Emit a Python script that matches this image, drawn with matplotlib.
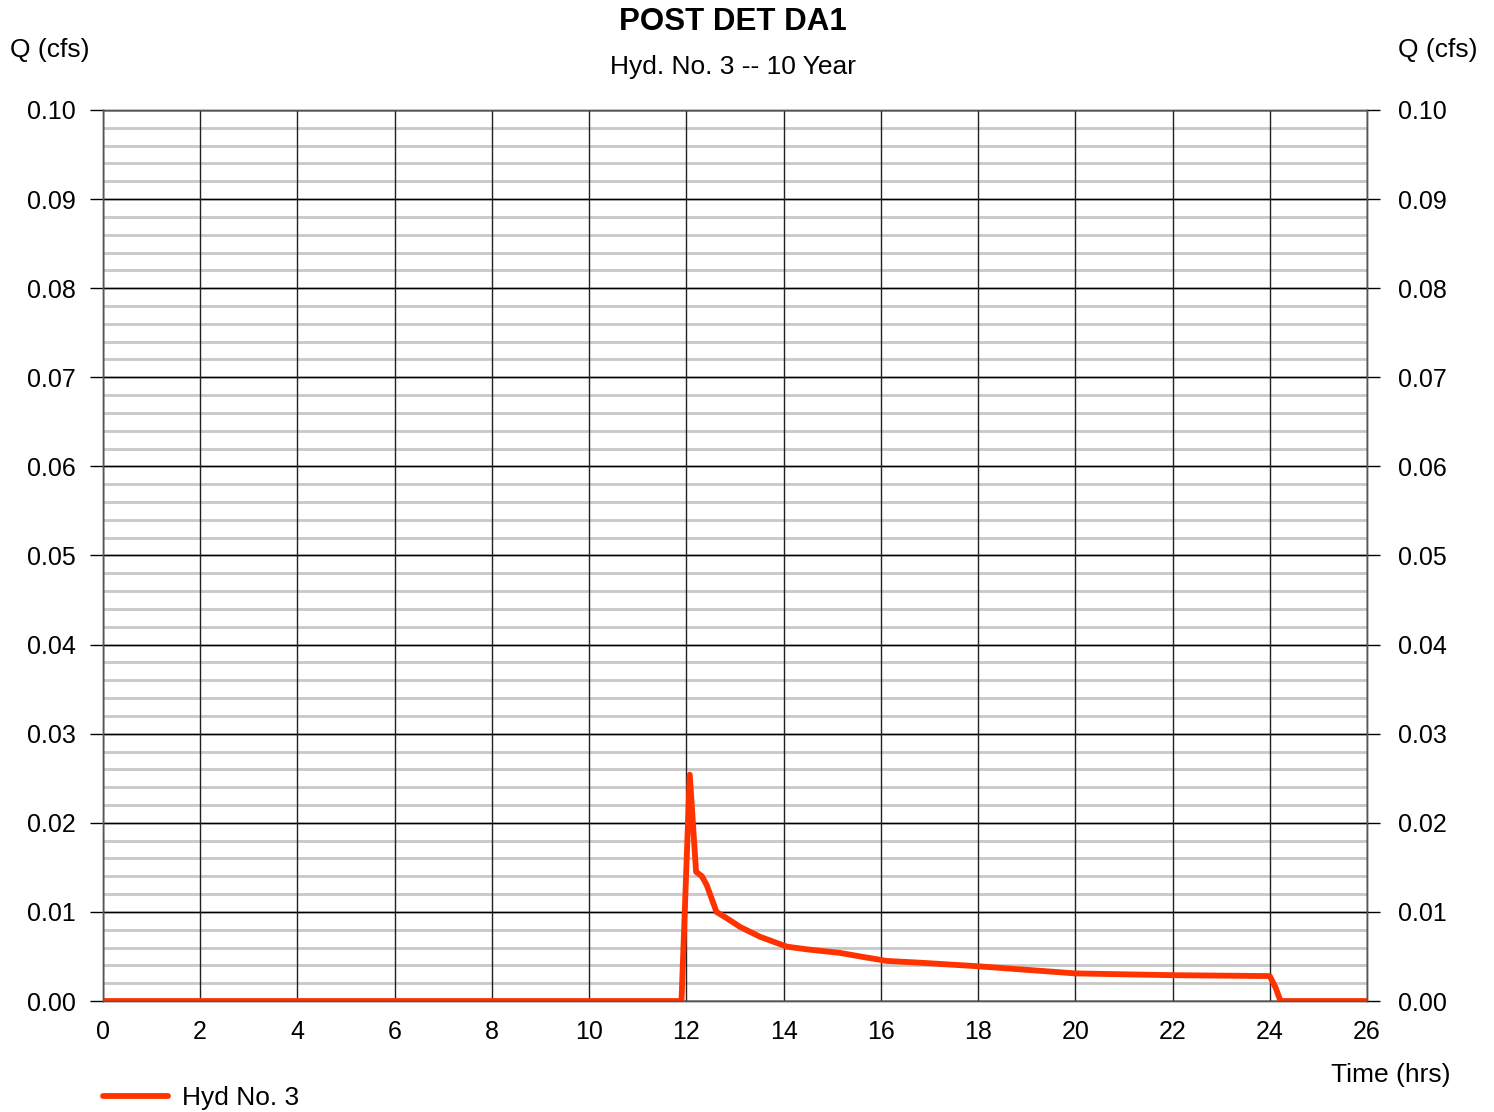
import matplotlib.pyplot as plt
import numpy as np

plt.rcParams['font.family'] = ['Liberation Sans', 'DejaVu Sans']

# Hydrograph values (time in hrs, flow in cfs)
time_hrs = [0.0, 11.90, 12.07, 12.20, 12.32, 12.42, 12.62, 12.83, 13.11, 13.52,
            14.07, 14.48, 15.16, 15.58, 16.12, 16.81, 18.0, 20.0, 22.0, 24.0,
            24.12, 24.22, 26.0]
flow_cfs = [0.0, 0.0, 0.0254, 0.0145, 0.0140, 0.0130, 0.0100, 0.0093, 0.0083, 0.0072,
            0.0061, 0.0058, 0.0054, 0.0050, 0.0045, 0.0043, 0.0039, 0.0031, 0.0029, 0.0028,
            0.0015, 0.0, 0.0]

x_ticks = np.arange(0, 27, 2)
y_ticks = np.arange(0, 0.101, 0.01)
y_minor = np.arange(0, 0.1001, 0.002)
y_labels = ['%.2f' % v for v in y_ticks]

fig = plt.figure(figsize=(14.94, 11.12), dpi=100)
ax = fig.add_axes([0.0689, 0.0998, 0.8461, 0.8013])

# minor horizontal grid (light gray), then major grid (black)
for yv in y_minor:
    ax.axhline(yv, color='#c8c8c8', lw=2.0, zorder=1)
for yv in y_ticks:
    ax.axhline(yv, color='black', lw=1.0, zorder=2)
for xv in x_ticks:
    ax.axvline(xv, color='#222222', lw=1.0, zorder=2)

ax.plot(time_hrs, flow_cfs, color='#ff3300', lw=4.2, zorder=5,
        solid_capstyle='round', solid_joinstyle='round', label='Hyd No. 3')

ax.set_xlim(0, 26)
ax.set_ylim(0, 0.10)
ax.set_xticks(x_ticks)
ax.set_yticks(y_ticks)
ax.set_yticklabels(y_labels)
ax.tick_params(axis='x', length=0, pad=14, labelsize=18)
ax.tick_params(axis='y', length=9.4, width=1, pad=10, labelsize=18, direction='out')

# right-hand axis with the same scale
ax2 = ax.twinx()
ax2.set_ylim(0, 0.10)
ax2.set_yticks(y_ticks)
ax2.set_yticklabels(y_labels)
ax2.tick_params(axis='y', length=9.4, width=1, pad=13, labelsize=18, direction='out')

for a in (ax, ax2):
    for s in a.spines.values():
        s.set_color('#555555')
        s.set_linewidth(1.0)

# labels and titles
fig.text(0.4906, 0.980, 'POST DET DA1', ha='center', va='center',
         fontsize=22.5, fontweight='bold')
fig.text(0.4906, 0.940, 'Hyd. No. 3 -- 10 Year', ha='center', va='center', fontsize=19)
fig.text(0.007, 0.955, 'Q (cfs)', ha='left', va='center', fontsize=19)
fig.text(0.989, 0.955, 'Q (cfs)', ha='right', va='center', fontsize=19)
fig.text(0.971, 0.033, 'Time (hrs)', ha='right', va='center', fontsize=19)

handles, labels = ax.get_legend_handles_labels()
fig.legend(handles, labels, loc='center left', bbox_to_anchor=(0.0689, 0.0125),
           frameon=False, fontsize=19, handlelength=2.45, handletextpad=0.55,
           borderpad=0, borderaxespad=0)

fig.savefig('out.png', dpi=100)
